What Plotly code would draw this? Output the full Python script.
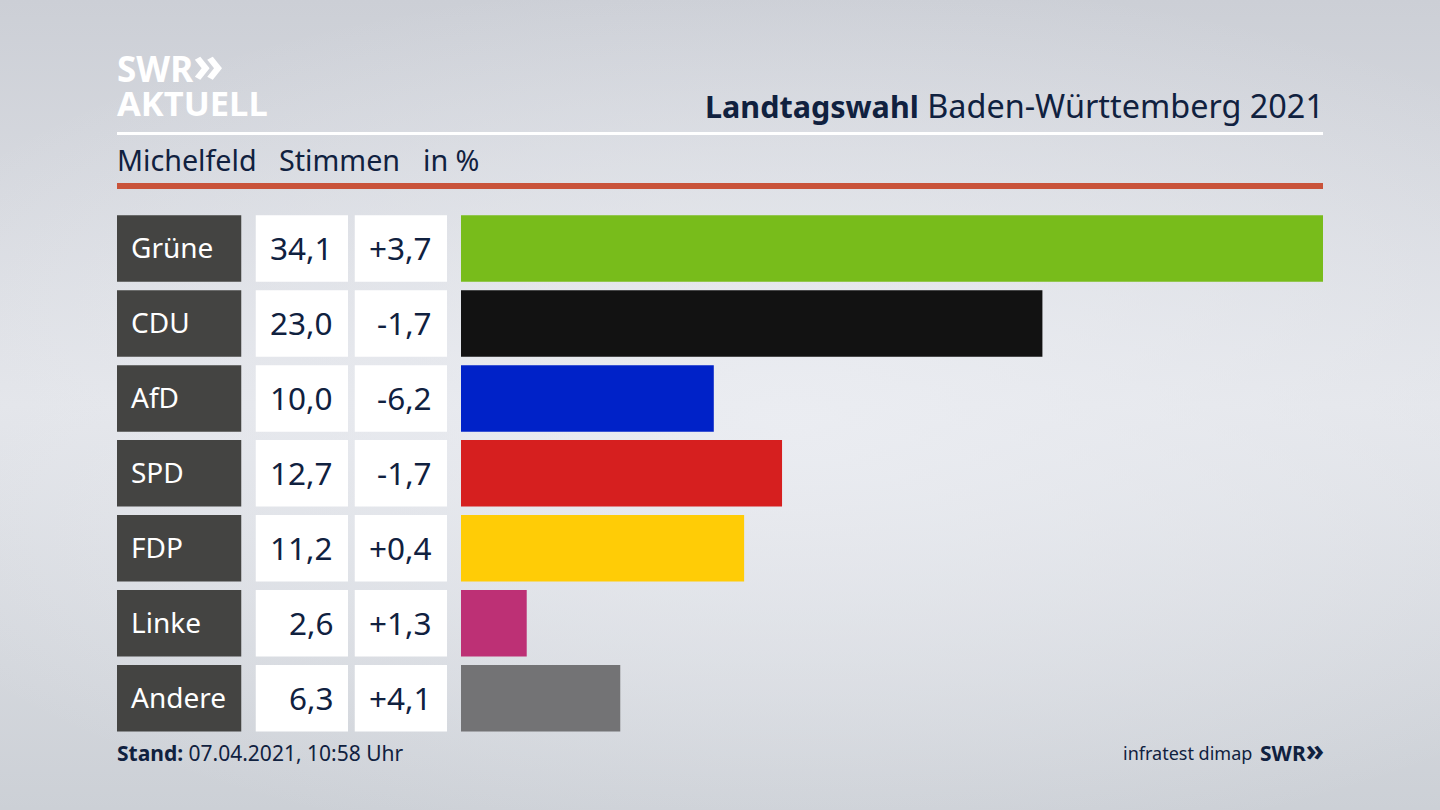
#Landtagswahl Baden-Wuerttemberg 2021, Michelfeld - bar chart with value cells

import plotly.graph_objects as go

W = 1440
H = 810

parties = ['Grüne', 'CDU', 'AfD', 'SPD', 'FDP', 'Linke', 'Andere']
votes = [34.1, 23.0, 10.0, 12.7, 11.2, 2.6, 6.3]
changes = [3.7, -1.7, -6.2, -1.7, 0.4, 1.3, 4.1]
bar_colors = ['#78bc1b', '#121212', '#0022c8', '#d61f1f', '#ffcc06', '#bd3075', '#737375']

text_color = '#10213f'
font_name = 'Noto Sans'


def px_x(x):
    return x / W


def px_y(y):
    return 1 - y / H


def cell_trace(color, axis):
    # full width cell behind a text column
    return go.Bar(y=parties, x=[1] * len(parties), orientation='h', xaxis=axis, yaxis='y',
                  marker=dict(color=color, line=dict(width=0)), hoverinfo='skip', showlegend=False)


def label(text, x, y, size, anchor='left', color=text_color, valign='middle'):
    return dict(text=text, x=px_x(x), y=px_y(y), xref='paper', yref='paper', showarrow=False,
                xanchor=anchor, yanchor=valign, borderpad=0,
                font=dict(family=font_name, size=size, color=color))


fig = go.Figure()

fig.add_trace(go.Bar(y=parties, x=votes, orientation='h', xaxis='x', yaxis='y',
                     marker=dict(color=bar_colors, line=dict(width=0)), showlegend=False))
fig.add_trace(cell_trace('#444442', 'x2'))
fig.add_trace(cell_trace('#ffffff', 'x3'))
fig.add_trace(cell_trace('#ffffff', 'x4'))

annotations = []

# texts in the cells
for party, vote, change in zip(parties, votes, changes):
    annotations.append(dict(text=party, x=0, y=party, xref='x2', yref='y', xanchor='left', xshift=12, yshift=1,
                            showarrow=False, font=dict(family=font_name, size=28, color='#ffffff')))
    annotations.append(dict(text=f'{vote:.1f}'.replace('.', ','), x=1, y=party, xref='x3', yref='y',
                            xanchor='right', xshift=-13, yshift=1, showarrow=False,
                            font=dict(family=font_name, size=31.5, color=text_color)))
    annotations.append(dict(text=f'{change:+.1f}'.replace('.', ','), x=1, y=party, xref='x4', yref='y',
                            xanchor='right', xshift=-13, yshift=1, showarrow=False,
                            font=dict(family=font_name, size=31.5, color=text_color)))

# header and footer
annotations.append(label('<b><span style="font-size:30.5px">Landtagswahl</span></b> Baden-Württemberg 2021',
                         1325, 105.5, 32.4, anchor='right'))
annotations.append(label('Michelfeld', 116, 159, 28.7))
annotations.append(label('Stimmen', 278, 159, 28.7))
annotations.append(label('in %', 422, 159, 28.7))
annotations.append(label('<b>Stand:</b> 07.04.2021, 10:58 Uhr', 116, 753, 21))
annotations.append(label('infratest dimap', 1253, 752.5, 18, anchor='right'))
annotations.append(label('<b>SWR<span style="font-size:30px">»</span></b>', 1325, 749, 21, anchor='right'))

# logo
annotations.append(label('<b>SWR<span style="font-size:50px">»</span></b>', 116, 63, 35, color='#ffffff'))
annotations.append(label('<b>AKTUELL</b>', 116, 103, 34.5, color='#ffffff'))

shapes = [
    dict(type='rect', xref='paper', yref='paper', x0=px_x(117), x1=px_x(1323), y0=px_y(135), y1=px_y(132),
         fillcolor='#ffffff', line=dict(width=0)),
    dict(type='rect', xref='paper', yref='paper', x0=px_x(117), x1=px_x(1323), y0=px_y(189), y1=px_y(183),
         fillcolor='#c9533a', line=dict(width=0)),
]


def hidden_axis(left, right, top_range):
    return dict(domain=[px_x(left), px_x(right)], range=[0, top_range], anchor='y', visible=False, fixedrange=True)


fig.update_layout(
    width=W, height=H,
    margin=dict(l=0, r=0, t=0, b=0),
    paper_bgcolor='rgba(0,0,0,0)',
    plot_bgcolor='rgba(0,0,0,0)',
    bargap=0.113,
    barmode='overlay',
    xaxis=hidden_axis(461, 1323, max(votes)),
    xaxis2=hidden_axis(117, 241.5, 1),
    xaxis3=hidden_axis(255.5, 348, 1),
    xaxis4=hidden_axis(354.5, 447, 1),
    yaxis=dict(domain=[px_y(735.7), px_y(211)], type='category', categoryorder='array', categoryarray=parties,
               autorange='reversed', visible=False, fixedrange=True),
    annotations=annotations,
    shapes=shapes,
)

page_style = """
document.body.style.margin = '0';
document.body.style.overflow = 'hidden';
document.body.style.background = 'radial-gradient(ellipse 70% 55% at 55% 52%, rgba(236,238,243,0.85), rgba(236,238,243,0) 100%), linear-gradient(180deg, #cccfd6 0%, #e2e4e9 50%, #ccd0d6 100%)';
document.body.style.height = '810px';
"""

fig.write_html("out.html", post_script=page_style, config=dict(displayModeBar=False))
